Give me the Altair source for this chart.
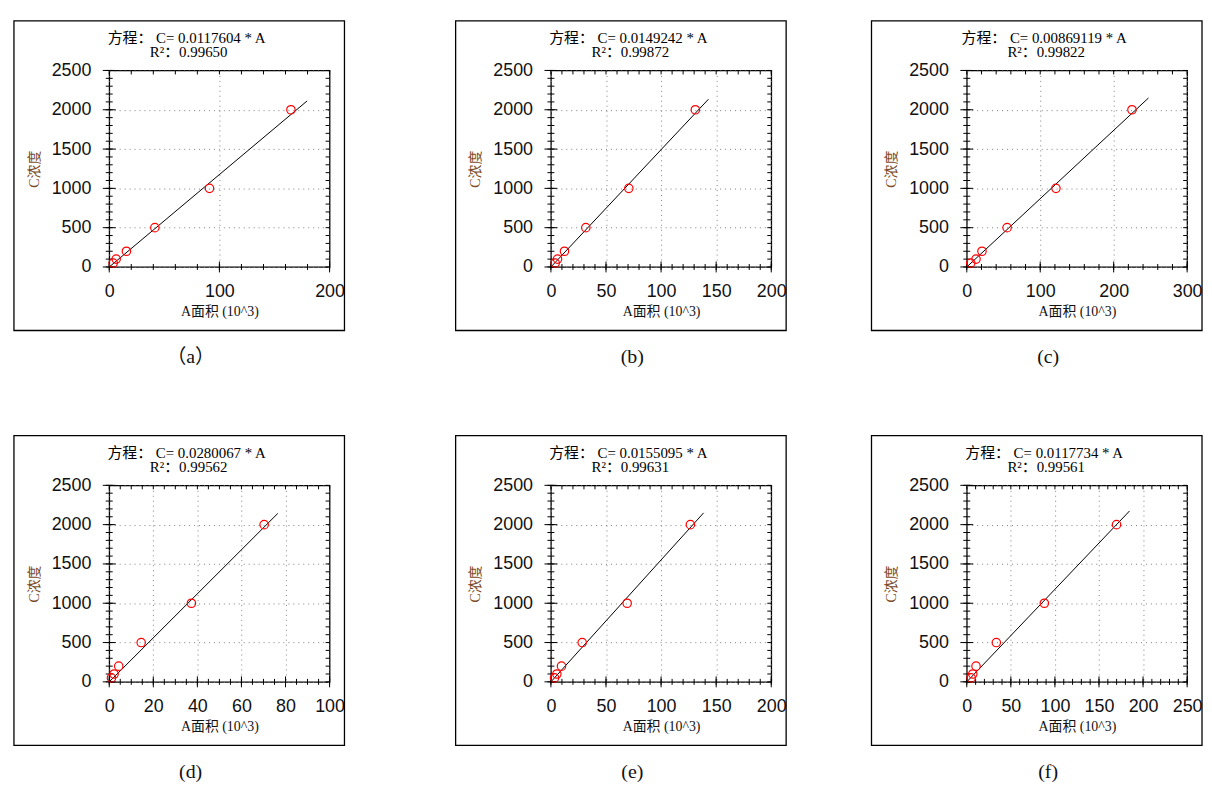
import altair as alt
import pandas as pd

# ---------------- data ----------------
CONC = [50, 100, 200, 500, 1000, 2000]          # C浓度 of the six standards

AREA_A = [3.6, 6.3, 15.6, 41.4, 91.0, 164.9]     # A面积 (10^3)
AREA_B = [3.9, 6.0, 12.3, 31.7, 70.7, 131.1]
AREA_C = [5.4, 12.6, 20.7, 54.9, 121.4, 224.9]
AREA_D = [1.0, 2.2, 4.3, 14.5, 37.3, 70.3]
AREA_E = [3.3, 5.4, 9.6, 28.4, 69.2, 126.6]
AREA_F = [4.9, 6.8, 10.5, 33.5, 88.0, 169.9]
AREAS = [AREA_A, AREA_B, AREA_C, AREA_D, AREA_E, AREA_F]

COEF = ["0.0117604", "0.0149242", "0.00869119", "0.0280067", "0.0155095", "0.0117734"]
R2 = ["0.99650", "0.99872", "0.99822", "0.99562", "0.99631", "0.99561"]
LINE_END = [179.6, 143.0, 247.4, 76.5, 138.6, 184.6]   # x where the fit line stops

X_MAX = [200, 200, 300, 100, 200, 250]
X_MAJOR = [
    [0, 100, 200],
    [0, 50, 100, 150, 200],
    [0, 100, 200, 300],
    [0, 20, 40, 60, 80, 100],
    [0, 50, 100, 150, 200],
    [0, 50, 100, 150, 200, 250],
]
X_MINOR_STEP = [20, 10, 20, 5, 10, 10]
Y_MAJOR = [0, 500, 1000, 1500, 2000, 2500]
Y_MINOR_STEP = 100
CAPTIONS = ["（a）", "(b)", "(c)", "(d)", "(e)", "(f)"]

# ---------------- styling ----------------
W, H = 222, 198
SANS = "Liberation Sans, Arial, sans-serif"
SERIF = "Liberation Serif, Noto Sans CJK SC, serif"
INK = "#111111"


def panel(i):
    pts = pd.DataFrame({"A": AREAS[i], "C": CONC})
    k = float(COEF[i]) * 1000.0
    fit = pd.DataFrame({"A": [0.0, LINE_END[i]], "C": [0.0, k * LINE_END[i]]})
    info = pd.DataFrame({
        "eq": [f"方程： C= {COEF[i]} * A"],
        "r2": [f"R²：{R2[i]}"],
        "cap": [CAPTIONS[i]],
    })
    xs = alt.Scale(domain=[0, X_MAX[i]], nice=False, zero=False)
    ys = alt.Scale(domain=[0, 2500], nice=False, zero=False)
    x_minor = list(range(0, X_MAX[i] + 1, X_MINOR_STEP[i]))
    y_minor = list(range(0, 2501, Y_MINOR_STEP))

    ax_x = alt.Axis(orient="bottom", values=X_MAJOR[i], format="d", ticks=False, tickSize=0,
                    domain=False, grid=True, gridDash=[1, 4], gridColor="#7f7f7f", gridWidth=1,
                    labelFont=SANS, labelFontSize=18, labelColor=INK,
                    labelPadding=15.5, labelOverlap=False, labelFlush=False,
                    title="A面积  (10^3)", titleFont=SERIF, titleFontSize=14,
                    titleFontWeight="normal", titleColor=INK,
                    titleX=W / 2, titleY=45, titleAlign="center", titleBaseline="middle")
    ax_y = alt.Axis(orient="left", values=Y_MAJOR, format="d", ticks=False, tickSize=0,
                    domain=False, grid=True, gridDash=[1, 4], gridColor="#7f7f7f", gridWidth=1,
                    labelFont=SANS, labelFontSize=18, labelColor=INK,
                    labelPadding=18.5, labelOverlap=False, labelFlush=False,
                    title="C浓度", titleFont=SERIF, titleFontSize=14,
                    titleFontWeight="normal", titleColor="#7a4a28",
                    titleX=-75.5, titleY=H / 2, titleAlign="center", titleBaseline="middle")

    def xticks(values, p1, p2):
        return alt.Chart(pd.DataFrame({"A": values})).mark_rule(
            color="black", strokeWidth=1).encode(
            x=alt.X("A:Q", scale=xs, axis=None), y=alt.value(p1), y2=alt.value(p2))

    def yticks(values, p1, p2):
        return alt.Chart(pd.DataFrame({"C": values})).mark_rule(
            color="black", strokeWidth=1).encode(
            y=alt.Y("C:Q", scale=ys, axis=None), x=alt.value(p1), x2=alt.value(p2))

    box = alt.Chart(info).mark_rect(fillOpacity=0, stroke="black", strokeWidth=1.3).encode(
        x=alt.value(-96), x2=alt.value(W + 15), y=alt.value(-50), y2=alt.value(H + 64))

    line = alt.Chart(fit).mark_line(color="black", strokeWidth=1).encode(
        x=alt.X("A:Q", scale=xs, axis=ax_x), y=alt.Y("C:Q", scale=ys, axis=ax_y))
    points = alt.Chart(pts).mark_point(shape="circle", size=72, color="#ff0000",
                                       filled=False, strokeWidth=1.2, opacity=1).encode(
        x=alt.X("A:Q", scale=xs, axis=None), y=alt.Y("C:Q", scale=ys, axis=None))

    ticks = [
        xticks(x_minor, H - 3, H + 3),          # bottom minor (crossing)
        xticks(X_MAJOR[i], H - 5.5, H + 5.5),   # bottom major (crossing)
        xticks(x_minor, 0, 4),                  # top, inward
        yticks(y_minor, -3.5, 3.5),             # left minor (crossing)
        yticks(Y_MAJOR, -6.5, 6.5),             # left major (crossing)
        yticks(y_minor, W - 4, W),              # right, inward
    ]

    eq = alt.Chart(info).mark_text(font=SERIF, fontSize=15, color="black",
                                   align="center", baseline="middle").encode(
        x=alt.value(78), y=alt.value(-32.5), text="eq:N")
    r2 = alt.Chart(info).mark_text(font=SERIF, fontSize=15, color="black",
                                   align="center", baseline="middle").encode(
        x=alt.value(80), y=alt.value(-18.5), text="r2:N")
    cap = alt.Chart(info).mark_text(font=SERIF, fontSize=20, color=INK,
                                    align="center", baseline="middle").encode(
        x=alt.value(82), y=alt.value(H + 91), text="cap:N")

    return (alt.layer(box, line, *ticks, points, eq, r2, cap)
            .resolve_axis(x="independent", y="independent")
            .properties(width=W, height=H))


p = [panel(i) for i in range(6)]
row1 = alt.hconcat(p[0], alt.hconcat(p[1], p[2], spacing=82), spacing=108)
row2 = alt.hconcat(p[3], alt.hconcat(p[4], p[5], spacing=82), spacing=108)

chart = (alt.vconcat(row1, row2, spacing=66)
         .properties(padding={"left": 4, "top": 8, "right": 0, "bottom": 0},
                     background="white")
         .configure_view(stroke="black", strokeWidth=1.3))

chart.save("out.html", embed_options={"renderer": "svg", "actions": False})
